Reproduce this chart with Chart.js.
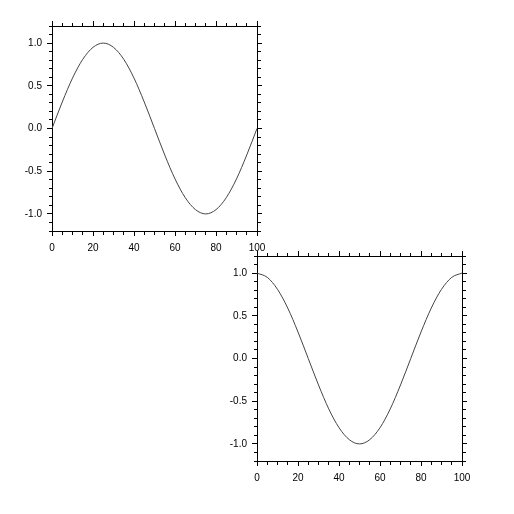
<!DOCTYPE html>
<html>
<head>
<meta charset="utf-8">
<script src="https://cdn.jsdelivr.net/npm/chart.js@4"></script>
<style>
    body{margin:0;background:#fff;}
    .wrap{position:relative;width:514px;height:514px;}
    canvas{position:absolute;left:0;top:0;}
</style>
</head>
<body>
<div class="wrap">
    <canvas id="top" width="514" height="514"></canvas>
    <canvas id="bottom" width="514" height="514"></canvas>
</div>
<script>
const xValues = [0,5,10,15,20,25,30,35,40,45,50,55,60,65,70,75,80,85,90,95,100]
const sineValues = [0,0.31,0.59,0.81,0.95,1,0.95,0.81,0.59,0.31,0,-0.31,-0.59,-0.81,-0.95,-1,-0.95,-0.81,-0.59,-0.31,0]
const cosineValues = [1,0.95,0.81,0.59,0.31,0,-0.31,-0.59,-0.81,-0.95,-1,-0.95,-0.81,-0.59,-0.31,0,0.31,0.59,0.81,0.95,1]
const xRange = [0,100]
const yRange = [-1.2,1.2]
const xMajorStep = 20
const yMajorStep = 0.5

const font = {family:"'Liberation Sans', Arial, sans-serif", size:10}

function isMajor(value,step){
    const r = value/step
    return Math.abs(r-Math.round(r)) < 1e-6
}

function makeAxis(axis,position,range,minorStep,majorStep,showLabels,size){
    // minor ticks: same tick line, dashed so only the part next to the border shows
    const outerFirst = position==="left" || position==="top"
    return {
        type:'linear',
        axis:axis,
        position:position,
        min:range[0],
        max:range[1],
        border:{display:true,color:'#000',width:1},
        grid:{
            drawOnChartArea:false,
            drawTicks:true,
            tickLength:5,
            tickWidth:1,
            tickColor:'#000',
            tickBorderDash:function(ctx){
                if(!ctx.tick || isMajor(ctx.tick.value,majorStep)) return []
                return outerFirst ? [0,2,3,10] : [3,10]
            }
        },
        ticks:{
            display:showLabels,
            stepSize:minorStep,
            autoSkip:false,
            maxRotation:0,
            padding:axis==='x' ? 6 : 5,
            color:'#000',
            font:font,
            callback:function(value){
                if(!isMajor(value,majorStep)) return ''
                return axis==='x' ? String(Math.round(value)) : value.toFixed(1)
            }
        },
        afterFit:function(scale){
            if(axis==='x') scale.height = size
            else scale.width = size
        }
    }
}

function createChart(id,values,padding){
    const ctx = document.getElementById(id).getContext('2d')
    const points = xValues.map((x,i) => ({x:x,y:values[i]}))
    return new Chart(ctx,{
        type:'line',
        data:{
            datasets:[{
                data:points,
                borderColor:'#444',
                borderWidth:1,
                pointRadius:0,
                fill:false,
                cubicInterpolationMode:'monotone'
            }]
        },
        options:{
            responsive:false,
            animation:false,
            layout:{padding:padding},
            plugins:{legend:{display:false},tooltip:{enabled:false}},
            scales:{
                x:makeAxis('x','bottom',xRange,5,xMajorStep,true,25),
                x2:makeAxis('x','top',xRange,5,xMajorStep,false,26),
                y:makeAxis('y','left',yRange,0.1,yMajorStep,true,52),
                y2:makeAxis('y','right',yRange,0.1,yMajorStep,false,10)
            }
        }
    })
}

createChart('top',sineValues,{left:0,top:0,right:247,bottom:258})
createChart('bottom',cosineValues,{left:205,top:230,right:42,bottom:28})
</script>
</body>
</html>
